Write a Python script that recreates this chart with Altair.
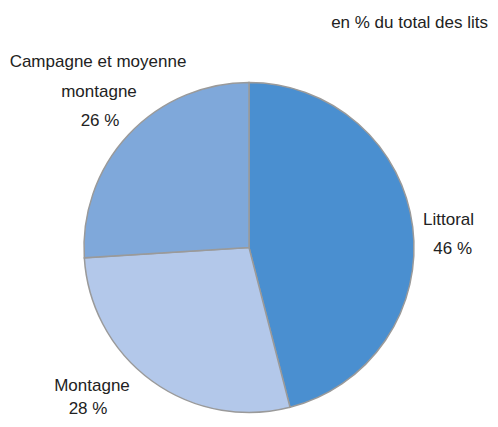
import altair as alt
import pandas as pd

categories = ["Littoral", "Montagne", "Campagne et moyenne montagne"]
values = [46, 28, 26]
colors = ["#4a8fd0", "#b3c8ea", "#7fa8da"]
title_text = "en % du total des lits"

df = pd.DataFrame({"cat": categories, "val": values, "ord": [0, 1, 2]})

FONT = "'Liberation Sans', Arial, sans-serif"
FS = 17

pie = alt.Chart(df).mark_arc(outerRadius=165, stroke="#9a9a9a", strokeWidth=1.5).encode(
    theta=alt.Theta("val:Q", stack=True),
    order=alt.Order("ord:Q"),
    color=alt.Color("cat:N", scale=alt.Scale(domain=categories, range=colors), legend=None),
    x=alt.value(241),
    y=alt.value(239.5),
)

def txt(text, x, y, align):
    return alt.Chart(pd.DataFrame({"t": [0]})).mark_text(
        text=text, font=FONT, fontSize=FS, color="#222222", align=align,
        baseline="alphabetic",
    ).encode(x=alt.value(x), y=alt.value(y))

layers = [
    pie,
    txt("Campagne et moyenne", 90, 59, "center"),
    txt("montagne", 91, 89, "center"),
    txt(f"{values[2]} %", 92, 118, "center"),
    txt(categories[0], 415, 217, "left"),
    txt(f"{values[0]} %", 464, 246, "right"),
    txt(categories[1], 84, 383, "center"),
    txt(f"{values[1]} %", 80, 406, "center"),
    txt(title_text, 480, 20, "right"),
]

chart = alt.layer(*layers).properties(
    width=482, height=411, padding=0, autosize=alt.AutoSizeParams(type="none")
).configure_view(stroke=None)

chart.save("out.html", embed_options={"renderer": "svg", "actions": False})
